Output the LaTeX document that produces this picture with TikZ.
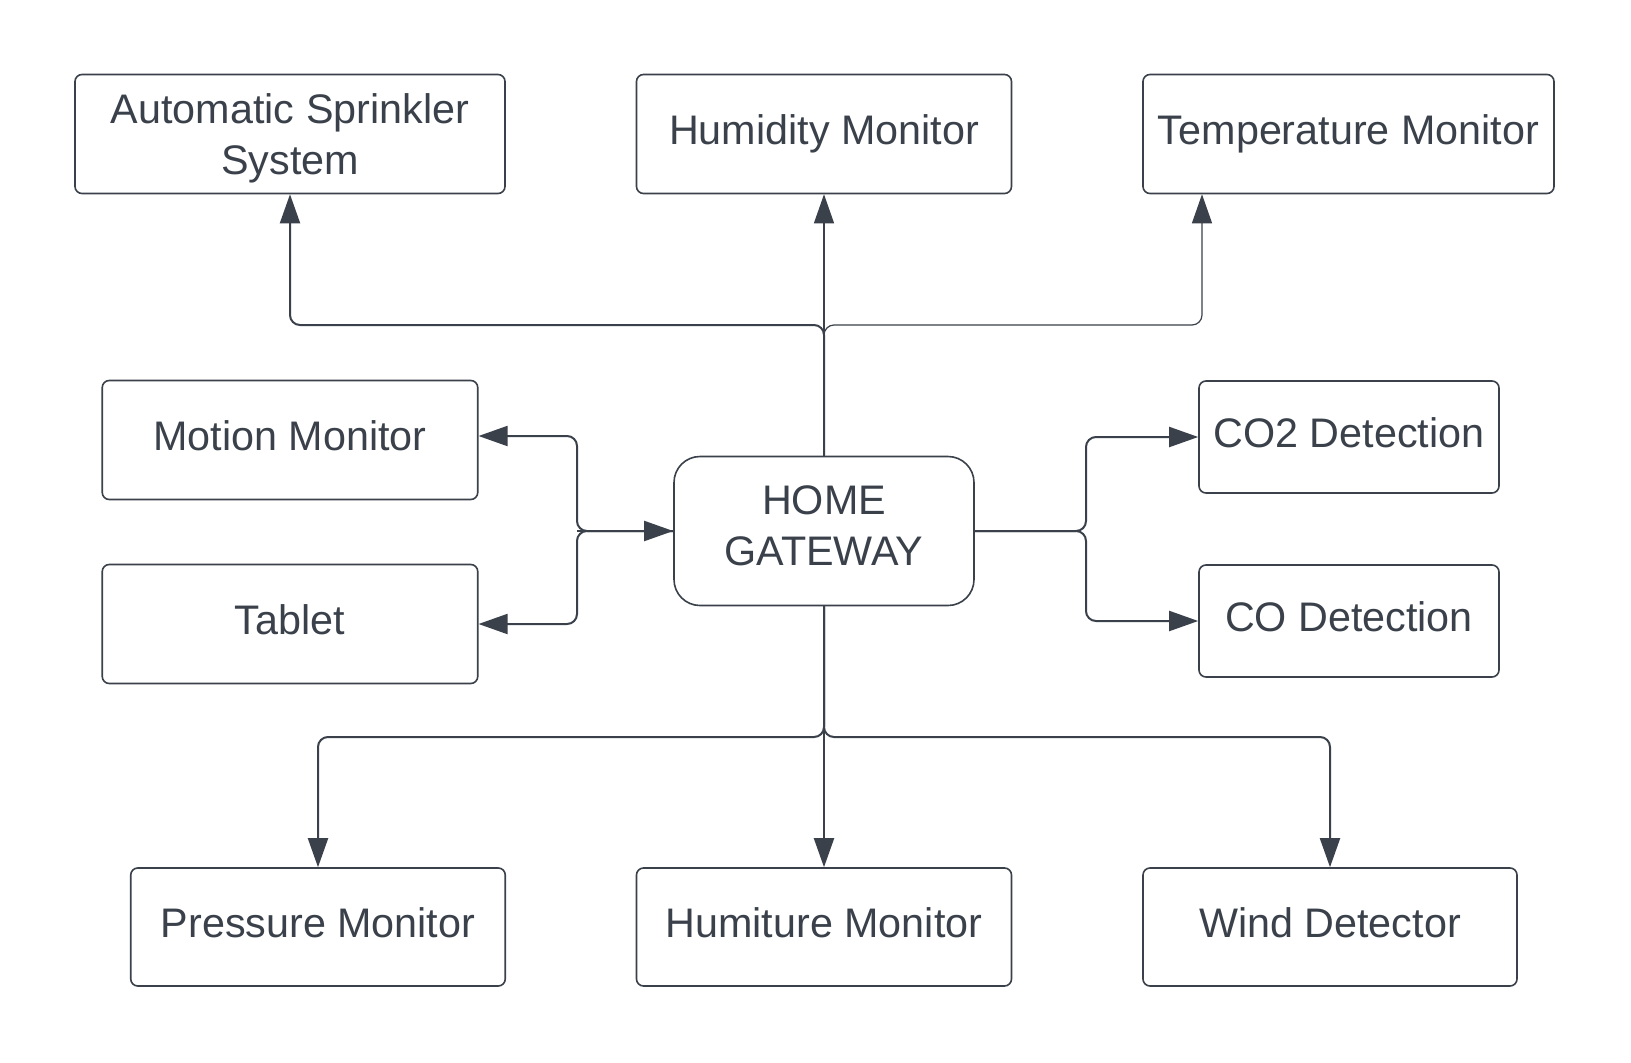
\documentclass[tikz,border=0pt]{standalone}
\usepackage{fontspec}
\setmainfont{Liberation Sans}
\usetikzlibrary{arrows.meta}
\definecolor{ink}{HTML}{3A414A}
\begin{document}
\begin{tikzpicture}[x=1pt,y=-1pt,
  box/.style={draw=ink, line width=1.6pt, rounded corners=7pt, align=center, text=ink,
    font=\fontsize{41.3}{51}\selectfont, inner sep=0pt, text height=30pt, text depth=10pt},
  gwbox/.style={box, rounded corners=26pt},
  conn/.style={draw=ink, line width=2pt, rounded corners=10pt},
  thin/.style={conn, line width=1.2pt},
  arr/.style={-{Triangle[length=29pt,width=20pt]}}
]
\useasboundingbox (0,0) rectangle (1631,1063);
\fill[white] (0,0) rectangle (1631,1063);
% nodes
\node[box, text height=, text depth=0pt, minimum width=430pt, minimum height=119pt] (spr) at (290,134) {Automatic Sprinkler\\System};
\node[box, minimum width=375pt, minimum height=119pt] (hum) at (824,134) {Humidity Monitor};
\node[box, minimum width=411pt, minimum height=119pt] (tmp) at (1348.5,134) {Temperature Monitor};
\node[box, minimum width=375.5pt, minimum height=119pt] (mot) at (290,440) {Motion Monitor};
\node[box, minimum width=375.5pt, minimum height=119pt] (tab) at (290,624) {Tablet};
\node[gwbox, text height=, text depth=11pt, minimum width=300pt, minimum height=149pt] (gw) at (824,531) {HOME\\GATEWAY};
\node[box, minimum width=300pt, minimum height=112pt] (co2) at (1349,437) {CO2 Detection};
\node[box, minimum width=300pt, minimum height=112pt] (co) at (1349,621) {CO Detection};
\node[box, minimum width=374.5pt, minimum height=118pt] (prs) at (318,927) {Pressure Monitor};
\node[box, minimum width=375pt, minimum height=118pt] (hmt) at (824,927) {Humiture Monitor};
\node[box, minimum width=374pt, minimum height=118pt] (wnd) at (1330,927) {Wind Detector};
% junction coordinates
\coordinate (jt) at (824,325);
\coordinate (jb) at (824,737);
\coordinate (jl) at (577,531);
\coordinate (jr) at (1086,531);
% top
\draw[conn, arr] (gw.north) -- (jt) -- (290,325) -- (spr.south);
\draw[thin, arr] (gw.north) -- (hum.south);
\draw[thin, arr] (gw.north) -- (jt) -- (1202,325) -- (tmp.south -| 1202,0);
% bottom
\draw[conn, arr] (gw.south) -- (jb) -- (318,737) -- (prs.north);
\draw[conn, arr] (gw.south) -- (hmt.north);
\draw[conn, arr] (gw.south) -- (jb) -- (1330,737) -- (wnd.north);
% right
\draw[conn, arr] (gw.east) -- (jr) -- (1086,437) -- (co2.west);
\draw[conn, arr] (gw.east) -- (jr) -- (1086,621) -- (co.west);
% left
\draw[conn, arr] (jl) -- (gw.west);
\draw[conn, arr] (gw.west) -- (jl) -- (577,436) -- ([yshift=4pt]mot.east);
\draw[conn, arr] (gw.west) -- (jl) -- (577,624) -- (tab.east);
\end{tikzpicture}
\end{document}
